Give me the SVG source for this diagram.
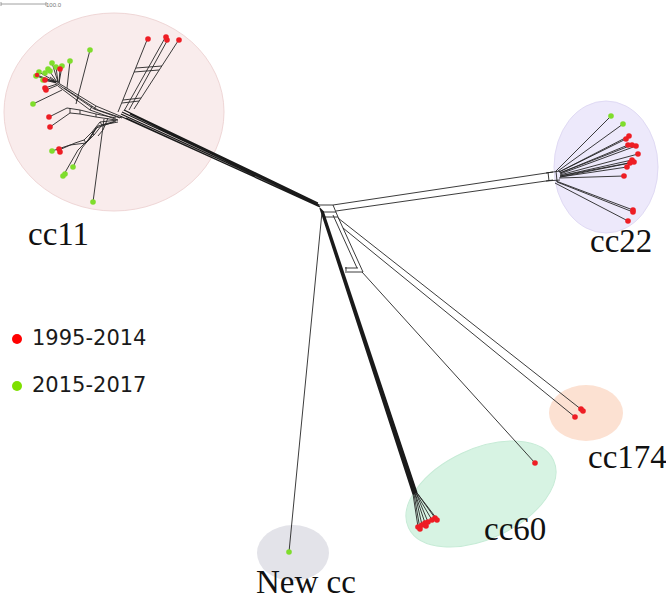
<svg xmlns="http://www.w3.org/2000/svg" width="666" height="601" viewBox="0 0 666 601">
<style>
.ln{fill:none;stroke:#262626;stroke-width:0.9;stroke-linejoin:round}
.tk{fill:none;stroke:#1a1a1a;stroke-width:1.3}
.r{fill:#ee1d24}
.g{fill:#7fdd2c}
.lab{font-family:"Liberation Serif","Times New Roman",serif;font-size:33px;fill:#111}
.leg{font-family:"DejaVu Sans",Verdana,sans-serif;font-size:21px;fill:#1a1a1a}
</style>
<rect width="666" height="601" fill="#fff"/>
<g id="scale">
<path d="M1,4 H46 M1,2 V6 M46,2 V6" stroke="#888" stroke-width="0.8" fill="none"/>
<text x="46" y="7" font-family="Liberation Sans,sans-serif" font-size="6" fill="#777">100.0</text>
</g>
<g id="clusters">
<ellipse id="e-cc11" cx="114" cy="112" rx="110" ry="99" fill="#f9ecec" stroke="#efd6d6" stroke-width="1"/>
<ellipse id="e-cc22" cx="606" cy="167" rx="52" ry="66" fill="#ede9fb" stroke="#e0daf4" stroke-width="1"/>
<ellipse id="e-cc174" cx="586" cy="413" rx="37" ry="28" fill="#fce1d2"/>
<ellipse id="e-cc60" cx="481" cy="494" rx="80" ry="45" transform="rotate(-25 481 494)" fill="#d7f3e3" stroke="#c6ebd6" stroke-width="1"/>
<ellipse id="e-newcc" cx="293" cy="553" rx="36" ry="28" fill="#e3e3e9"/>
</g>
<g id="connectors">
<!-- cc11 stem -->
<path class="tk" stroke-width="1.2" d="M318,203 L124,110 M318,204 L122,112 M319,205 L121,114 M319,206 L120,116 M320,207 L126,118 M317,204 L128,112 M318,205 L130,114"/>
<!-- hub -->
<path class="ln" d="M312,201 Q318,203 320,207 M318,205 L333,205 M321,212 L336,212 M323,217 L338,217 M333,205 L338,217"/>
<!-- to cc22 -->
<path class="ln" stroke-width="1.2" d="M333,205 L553,172 M336,211 L553,180 M548,172 L549,181 M556,171 L557,181 M546,173 L560,171 M546,181 L560,180"/>
<path class="ln" d="M556,171 L611,116 M558,171 L623,124 M559,172 L629,136 M559,172 L626,139 M560,173 L628,145 M560,173 L632,145 M560,174 L636,146 M560,175 L638,154 M560,176 L632,160 M560,176 L634,162 M560,177 L630,163 M560,177 L627,167 M559,178 L624,176 M556,181 L633,210 M557,182 L633,212 M555,183 L628,221"/>
<!-- to cc60 bundle -->
<path class="tk" stroke-width="1.4" d="M320,208 L413,494 M321,209 L415,494 M322,210 L416,493 M323,211 L417,493 M322,212 L414,495"/>
<path class="ln" d="M413,494 L418,527 M414,494 L420,529 M415,494 L422,525 M415,493 L425,523 M416,493 L428,522 M416,493 L432,520 M417,493 L435,518 M417,493 L437,519"/>
<!-- cc60 side box -->
<path class="ln" d="M333,215 L357,268 M338,217 L363,272 M345,268 L358,268 M347,272 L363,272 M346,267 L346,273"/>
<!-- to cc60 outlier -->
<path class="ln" d="M362,272 L535,463"/>
<!-- to cc174 -->
<path class="ln" stroke-width="1.1" d="M338,218 L582,410 M343,228 L575,417"/>
<!-- to New cc -->
<path class="ln" d="M322,212 L289,552"/>
<!-- cc11 inner network -->
<path class="ln" d="M118,112 L147,40 M124,111 L165,38 M129,110 L167,41 M134,109 L178,41 M123,100 L141,98 M122,103 L139,101 M136,68 L162,66 M134,72 L159,70"/>
<path class="ln" d="M120,116 L96,106 L60,84 L50,77 M120,118 L94,109 L62,87 L52,80 M118,120 L90,110 L58,86 M122,118 L98,110 L64,88 M96,106 L94,109 M90,110 L92,106 M78,98 L76,101"/>
<path class="ln" d="M56,82 L36,76 M56,82 L39,72 M56,82 L43,80 M57,82 L48,69 M58,82 L52,63 M58,82 L56,67 M59,83 L62,66 M59,83 L60,69 M56,83 L45,80 M57,84 L45,88 M58,85 L46,90 M55,82 L37,75 M67,88 L70,61 M76,104 L90,50 M62,90 L33,104"/>
<path class="ln" d="M116,118 L96,114 L80,110 L67,108 L49,117 M116,120 L96,117 L80,114 L70,113 L50,127 M80,110 L80,114 M70,108 L70,113 M96,114 L96,117"/>
<path class="ln" d="M118,120 L100,122 L92,132 L84,140 L75,143 L59,150 M118,122 L102,125 L94,135 L86,143 L70,145 L52,151 M116,121 L98,126 L90,138 L82,148 L73,167 M114,122 L96,128 L88,140 L78,150 L63,176 M92,132 L94,135 M100,122 L102,125 M84,140 L86,143 M90,138 L96,128 M104,119 L93,202 M108,118 L103,130 L98,136"/>
</g>
<g id="dots">
<g id="d-cc11">
<circle class="r" cx="148" cy="39" r="2.8"/><circle class="r" cx="166" cy="37" r="2.8"/><circle class="r" cx="167" cy="40" r="2.8"/><circle class="r" cx="179" cy="40" r="2.8"/>
<circle class="g" cx="90" cy="50" r="2.8"/><circle class="g" cx="70" cy="61" r="2.8"/>
<circle class="g" cx="36" cy="76" r="2.8"/><circle class="g" cx="39" cy="72" r="2.8"/><circle class="g" cx="43" cy="80" r="2.8"/><circle class="g" cx="48" cy="69" r="2.8"/><circle class="g" cx="52" cy="63" r="2.8"/><circle class="g" cx="56" cy="67" r="2.8"/><circle class="g" cx="62" cy="66" r="2.8"/><circle class="g" cx="45" cy="73" r="2.8"/><circle class="g" cx="50" cy="71" r="2.8"/>
<circle class="r" cx="60" cy="69" r="2.8"/><circle class="r" cx="45" cy="80" r="2.8"/><circle class="r" cx="37" cy="75" r="2.2"/><circle class="r" cx="45" cy="88" r="2.8"/><circle class="r" cx="46" cy="90" r="2.8"/>
<circle class="g" cx="33" cy="104" r="2.8"/>
<circle class="r" cx="49" cy="117" r="2.8"/><circle class="r" cx="50" cy="127" r="2.8"/>
<circle class="g" cx="52" cy="151" r="2.8"/><circle class="r" cx="59" cy="149" r="2.8"/><circle class="r" cx="60" cy="152" r="2.8"/>
<circle class="g" cx="73" cy="167" r="2.8"/><circle class="g" cx="63" cy="176" r="2.8"/><circle class="g" cx="65" cy="174" r="2.8"/>
<circle class="g" cx="93" cy="202" r="2.8"/>
</g>
<g id="d-cc22">
<circle class="g" cx="611" cy="116" r="2.8"/><circle class="g" cx="623" cy="124" r="2.8"/>
<circle class="r" cx="629" cy="136" r="2.8"/><circle class="r" cx="626" cy="139" r="2.8"/><circle class="r" cx="628" cy="145" r="2.8"/><circle class="r" cx="632" cy="145" r="2.8"/><circle class="r" cx="636" cy="146" r="2.8"/><circle class="r" cx="638" cy="154" r="2.8"/><circle class="r" cx="632" cy="160" r="2.8"/><circle class="r" cx="634" cy="162" r="2.8"/><circle class="r" cx="630" cy="163" r="2.8"/><circle class="r" cx="627" cy="167" r="2.8"/><circle class="r" cx="624" cy="176" r="2.8"/>
<circle class="r" cx="633" cy="210" r="2.8"/><circle class="r" cx="633" cy="212" r="2.8"/><circle class="r" cx="628" cy="221" r="2.8"/>
</g>
<g id="d-cc174">
<circle class="r" cx="581" cy="409" r="2.8"/><circle class="r" cx="583" cy="411" r="2.8"/><circle class="r" cx="575" cy="417" r="2.8"/>
</g>
<g id="d-cc60">
<circle class="r" cx="418" cy="527" r="2.8"/><circle class="r" cx="420" cy="529" r="2.8"/><circle class="r" cx="422" cy="525" r="2.8"/><circle class="r" cx="425" cy="523" r="2.8"/><circle class="r" cx="428" cy="522" r="2.8"/><circle class="r" cx="432" cy="520" r="2.8"/><circle class="r" cx="435" cy="518" r="2.8"/><circle class="r" cx="437" cy="520" r="2.8"/><circle class="r" cx="426" cy="526" r="2.8"/>
<circle class="r" cx="535" cy="463" r="2.8"/>
</g>
<g id="d-newcc"><circle class="g" cx="289" cy="552" r="2.8"/></g>
</g>
<g id="labels">
<text class="lab" x="28" y="245">cc11</text>
<text class="lab" x="590" y="252">cc22</text>
<text class="lab" x="588" y="468">cc174</text>
<text class="lab" x="484" y="540">cc60</text>
<text class="lab" x="256" y="593">New cc</text>
</g>
<g id="legend">
<circle cx="17" cy="339" r="5" fill="#ff0000"/>
<text class="leg" x="32" y="345">1995-2014</text>
<circle cx="17" cy="386" r="5" fill="#7ee000"/>
<text class="leg" x="32" y="392">2015-2017</text>
</g>
</svg>
